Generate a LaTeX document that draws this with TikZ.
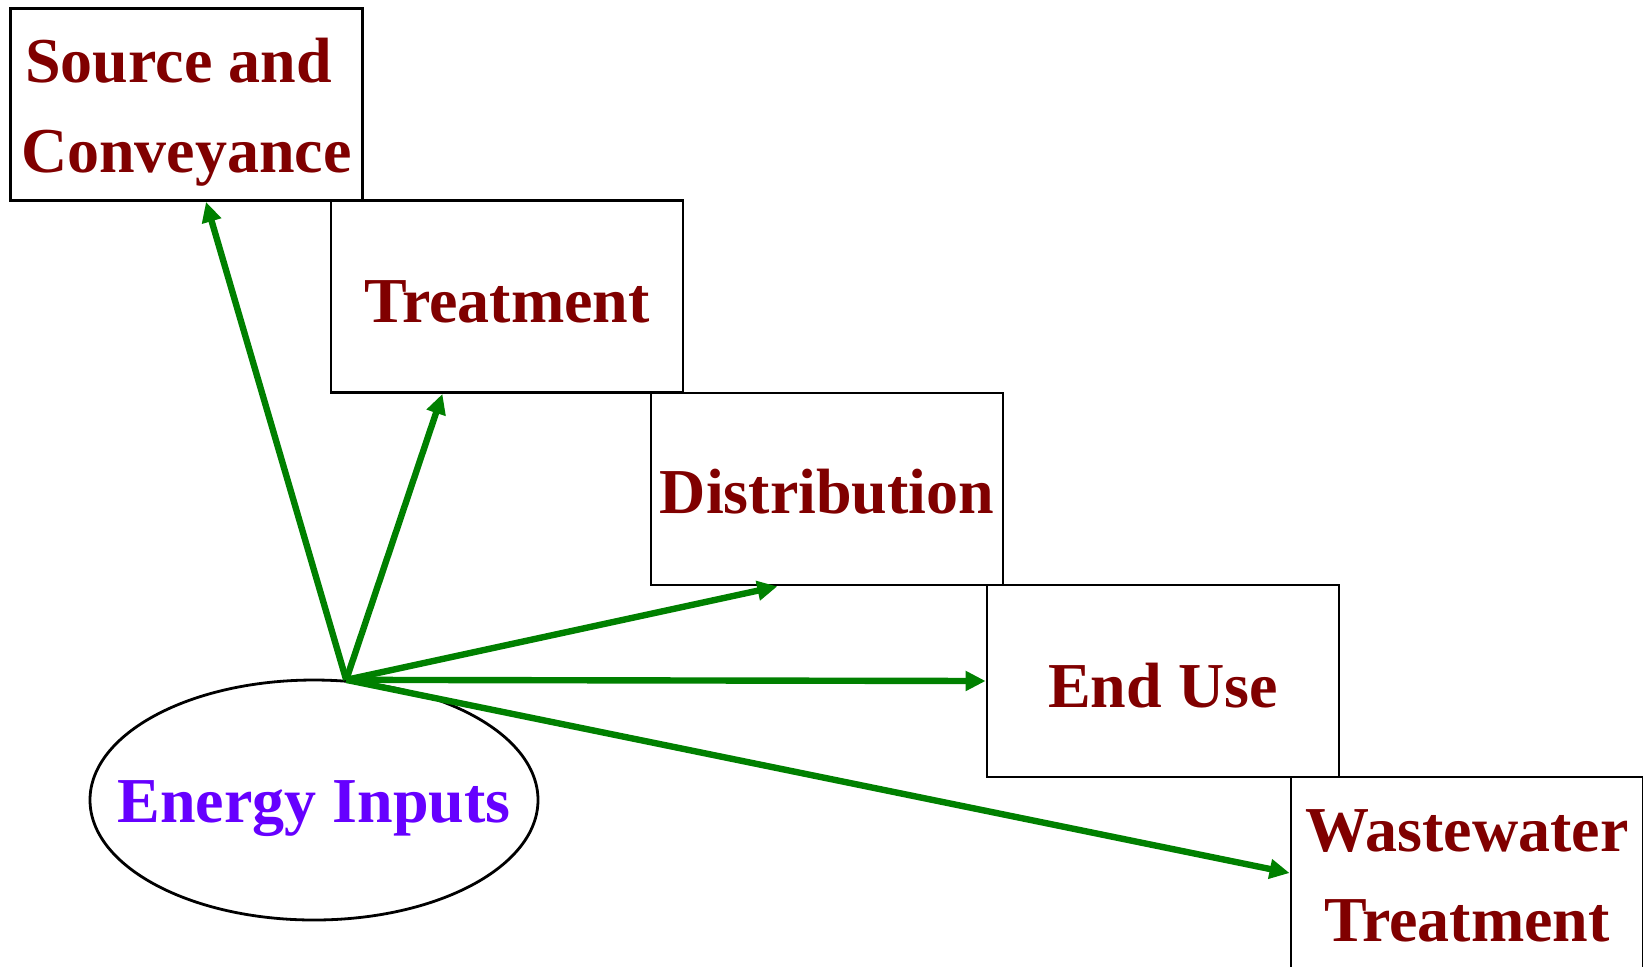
\documentclass[tikz,border=0pt]{standalone}
\usepackage{fontspec}
\setmainfont{Liberation Serif}
\usetikzlibrary{arrows.meta,calc,shapes.geometric}
\definecolor{boxred}{HTML}{800000}
\definecolor{violetblue}{HTML}{6600FF}
\definecolor{arrowgreen}{HTML}{008000}
\begin{document}
\begin{tikzpicture}[x=0.5pt,y=-0.5pt,
  stagebox/.style={draw=black,line width=1.4pt,minimum width=176pt,minimum height=96pt,inner sep=0pt},
  stagetext/.style={inner sep=0pt,text=boxred,font=\fontsize{32}{45}\selectfont\bfseries,align=center},
  energy/.style={draw=black,line width=1.4pt,shape=ellipse,minimum width=224pt,minimum height=120pt,inner sep=0pt},
  energytext/.style={inner sep=0pt,text=violetblue,font=\fontsize{32}{45}\selectfont\bfseries},
  flow/.style={draw=arrowgreen,line width=3.2pt,-{Triangle[length=10pt,width=9.5pt]}}]
\useasboundingbox (0,0) rectangle (1643,966);
\begin{scope}
\clip (0,0) rectangle (1643,966);
\node[stagebox] (b1) at (186.5,104.5) {};
\node[stagebox] (b2) at (507,296.5) {};
\node[stagebox] (b3) at (827,489) {};
\node[stagebox] (b4) at (1163,681) {};
\node[stagebox] (b5) at (1467,873) {};
\node[stagetext] (l1) at ($(b1)+(0,8)$) {Source and\hspace*{8pt}\\Conveyance};
\node[stagetext] (l2) at ($(b2)+(0,5)$) {Treatment};
\node[stagetext] (l3) at ($(b3)+(0,3)$) {Distribution};
\node[stagetext] (l4) at ($(b4)+(0,5)$) {End Use};
\node[stagetext] (l5) at ($(b5)+(0,3)$) {Wastewater\\Treatment};
\node[energy] (e) at (314,800) {};
\node[energytext] (et) at ($(e)+(0,9)$) {Energy Inputs};
\coordinate (o) at (e.75);
\coordinate (t1) at ($(b1.south west)!0.555!(b1.south east)$);
\coordinate (t2) at ($(b2.south west)!0.318!(b2.south east)$);
\coordinate (t3) at ($(b3.south west)!0.36!(b3.south east)$);
\draw[flow] (o) -- (t1);
\draw[flow] (o) -- (t2);
\draw[flow] (o) -- (t3);
\draw[flow] (o) -- (b4.west);
\draw[flow] (o) -- (b5.west);
\end{scope}
\end{tikzpicture}
\end{document}
